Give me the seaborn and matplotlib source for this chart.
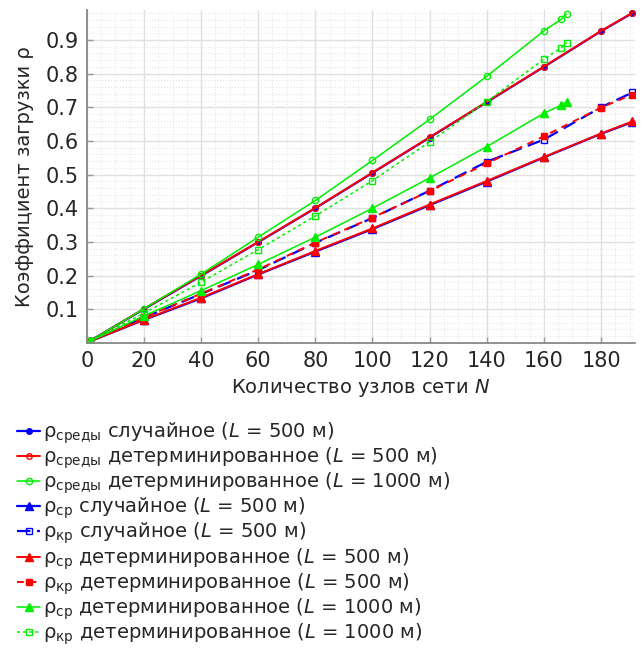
import numpy as np
import pandas as pd
import matplotlib
matplotlib.use("Agg")
import matplotlib.pyplot as plt
from matplotlib.ticker import MultipleLocator
import seaborn as sns

# node counts
n_500 = [1, 20, 40, 60, 80, 100, 120, 140, 160, 180, 191]
n_1000 = [1, 20, 40, 60, 80, 100, 120, 140, 160, 166, 168]

# rho_среды
env_rand_500 = [0.005, 0.100, 0.199, 0.299, 0.400, 0.505, 0.610, 0.715, 0.820, 0.926, 0.980]
env_det_500 = [0.005, 0.101, 0.200, 0.300, 0.401, 0.506, 0.611, 0.716, 0.821, 0.927, 0.981]
env_det_1000 = [0.005, 0.101, 0.204, 0.314, 0.423, 0.542, 0.664, 0.792, 0.927, 0.961, 0.977]
# rho_ср / rho_кр
avg_rand_500 = [0.004, 0.068, 0.132, 0.203, 0.271, 0.338, 0.409, 0.479, 0.551, 0.621, 0.656]
cr_rand_500 = [0.004, 0.075, 0.145, 0.216, 0.297, 0.371, 0.452, 0.538, 0.604, 0.700, 0.744]
avg_det_500 = [0.004, 0.069, 0.134, 0.204, 0.273, 0.340, 0.411, 0.481, 0.552, 0.622, 0.658]
cr_det_500 = [0.004, 0.076, 0.146, 0.218, 0.298, 0.372, 0.451, 0.533, 0.614, 0.699, 0.738]
avg_det_1000 = [0.004, 0.080, 0.155, 0.233, 0.314, 0.400, 0.490, 0.583, 0.682, 0.706, 0.717]
cr_det_1000 = [0.004, 0.088, 0.180, 0.277, 0.377, 0.482, 0.597, 0.717, 0.843, 0.876, 0.892]

labels = [
    r"ρ$_\mathregular{среды}$ случайное ($\mathit{L}$ = 500 м)",
    r"ρ$_\mathregular{среды}$ детерминированное ($\mathit{L}$ = 500 м)",
    r"ρ$_\mathregular{среды}$ детерминированное ($\mathit{L}$ = 1000 м)",
    r"ρ$_\mathregular{ср}$ случайное ($\mathit{L}$ = 500 м)",
    r"ρ$_\mathregular{кр}$ случайное ($\mathit{L}$ = 500 м)",
    r"ρ$_\mathregular{ср}$ детерминированное ($\mathit{L}$ = 500 м)",
    r"ρ$_\mathregular{кр}$ детерминированное ($\mathit{L}$ = 500 м)",
    r"ρ$_\mathregular{ср}$ детерминированное ($\mathit{L}$ = 1000 м)",
    r"ρ$_\mathregular{кр}$ детерминированное ($\mathit{L}$ = 1000 м)",
]

if __name__ == '__main__':
    sns.set_theme(style="whitegrid")
    plt.rcParams["font.family"] = ["DejaVu Sans"]
    plt.rcParams["mathtext.fontset"] = "dejavusans"
    plt.rcParams["mathtext.default"] = "regular"

    fig, ax = plt.subplots(figsize=(6.43, 6.48), dpi=100)
    fig.subplots_adjust(left=0.135, right=0.988, bottom=0.471, top=0.985)

    blue, red, green = "#0000ff", "#ff0000", "#00ee00"
    series = [
        # x, y, color, linestyle, marker, ms, face, lw
        (n_500, env_rand_500, blue, "-", "o", 4, blue, 1.6),
        (n_500, env_det_500, red, "-", "o", 4, "none", 1.4),
        (n_1000, env_det_1000, green, "-", "o", 4.5, "none", 1.1),
        (n_500, avg_rand_500, blue, "-", "^", 6, blue, 1.6),
        (n_500, cr_rand_500, blue, (0, (6, 3)), "s", 4, "none", 1.6),
        (n_500, avg_det_500, red, "-", "^", 6, red, 1.4),
        (n_500, cr_det_500, red, (0, (3.5, 3)), "s", 4, red, 1.4),
        (n_1000, avg_det_1000, green, "-", "^", 6, green, 1.1),
        (n_1000, cr_det_1000, green, (0, (2, 2)), "s", 4, "none", 1.1),
    ]
    for (x, y, c, ls, m, ms, fc, lw), lab in zip(series, labels):
        sns.lineplot(x=x, y=y, ax=ax, color=c, linestyle=ls, marker=m,
                     markersize=ms, markerfacecolor=fc, markeredgecolor=c,
                     markeredgewidth=1.0, linewidth=lw, label=lab)

    ax.set_xlim(0, 192)
    ax.set_ylim(0, 0.99)
    ax.set_xticks(np.arange(0, 181, 20))
    ax.set_yticks(np.arange(0.1, 0.91, 0.1))
    ax.set_yticklabels(["%.1f" % v for v in np.arange(0.1, 0.91, 0.1)])
    ax.xaxis.set_minor_locator(MultipleLocator(5))
    ax.yaxis.set_minor_locator(MultipleLocator(0.02))
    ax.grid(which="major", color="#e0e0e0", linewidth=1.0, linestyle="-")
    ax.grid(which="minor", color="#e6e6e6", linewidth=0.8, linestyle=":")
    ax.tick_params(which="major", direction="in", length=4, width=1,
                   color="#999999", labelsize=15, labelcolor="#262626",
                   bottom=True, left=True, pad=6)
    ax.tick_params(which="minor", length=0)
    for s in ["top", "right"]:
        ax.spines[s].set_visible(False)
    for s in ["left", "bottom"]:
        ax.spines[s].set_color("#888888")
        ax.spines[s].set_linewidth(1.3)

    ax.set_xlabel(r"Количество узлов сети $\mathit{N}$", fontsize=14, color="#262626", labelpad=4)
    ax.set_ylabel("Коэффициент загрузки ρ", fontsize=14, color="#262626", labelpad=8)

    handles, labs = ax.get_legend_handles_labels()
    ax.get_legend().remove()
    fig.legend(handles, labs, loc="upper left", bbox_to_anchor=(0.015, 0.363),
               frameon=False, fontsize=14, handlelength=1.15, handletextpad=0.15,
               labelspacing=-0.02, borderaxespad=0)

    fig.savefig("out.png", dpi=100)
